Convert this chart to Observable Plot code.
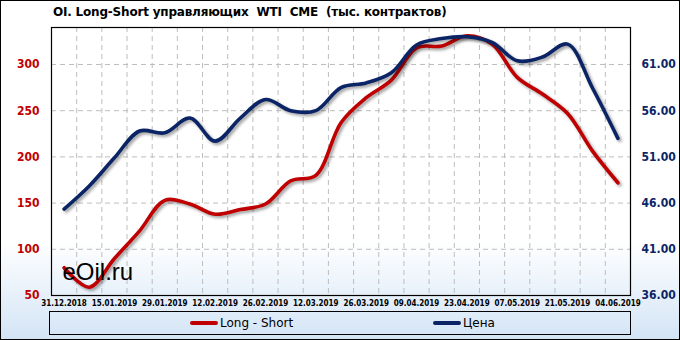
<!DOCTYPE html>
<html>
<head>
<meta charset="utf-8">
<script src="https://cdn.jsdelivr.net/npm/d3@7"></script>
<script src="https://cdn.jsdelivr.net/npm/@observablehq/plot@0.6"></script>
<style>
  html, body { margin: 0; padding: 0; background: #fff; }
  #chart {
    position: relative; width: 680px; height: 340px; overflow: hidden;
    background: linear-gradient(to bottom, #ffffff 0%, #ffffff 71%, #d3e4f6 100%);
    font-family: "DejaVu Sans", Verdana, sans-serif;
  }
  #border { position: absolute; left: 0; top: 0; width: 678px; height: 338px; border: 1px solid #000; pointer-events: none; }
  #title { height: 24px; box-sizing: border-box; padding: 5px 0 0 53px; font-weight: bold; font-size: 12px; line-height: 14px; color: #000; white-space: pre; letter-spacing: -0.2px; }
  #plot svg { display: block; background: transparent; overflow: visible; }
  #plot svg g[aria-label="line"] { filter: drop-shadow(2px 2px 1.5px rgba(0,0,0,0.38)); }
  #legend { position: relative; height: 29px; }
  #legbox { position: absolute; left: 49px; top: 0; width: 580px; height: 22px; border: 1px solid #000; }
  .item { position: absolute; top: 0; height: 22px; display: flex; align-items: center; font-size: 12px; color: #000; }
  .sw { width: 28px; height: 4px; border-radius: 2px; margin-right: 2px; }
</style>
</head>
<body>
<div id="chart">
  <div id="title">OI. Long-Short управляющих  WTI  CME  (тыс. контрактов)</div>
  <div id="plot"></div>
  <div id="legend">
    <div id="legbox">
      <div class="item" style="left:140px"><div class="sw" style="background:#c00000"></div>Long - Short</div>
      <div class="item" style="left:383px"><div class="sw" style="background:#0a2466"></div>Цена</div>
    </div>
  </div>
  <div id="border"></div>
</div>
<script>
const dates = ["31.12.2018","08.01.2019","15.01.2019","22.01.2019","29.01.2019","05.02.2019","12.02.2019","19.02.2019","26.02.2019","05.03.2019","12.03.2019","19.03.2019","26.03.2019","02.04.2019","09.04.2019","16.04.2019","23.04.2019","30.04.2019","07.05.2019","14.05.2019","21.05.2019","28.05.2019","04.06.2019"];
const longShort = [80, 59, 90, 120, 153, 149, 138, 143, 149, 174, 180, 237, 264, 283, 318, 320, 331, 322, 286, 268, 247, 206, 172];
const price = [45.35, 47.85, 50.9, 53.8, 53.6, 55.2, 52.7, 55.2, 57.2, 56.0, 56.0, 58.5, 59.0, 60.1, 63.1, 63.8, 64.0, 63.4, 61.4, 61.8, 63.2, 58.4, 53.0];
const leftTicks = [50, 100, 150, 200, 250, 300];
const rightTicks = [36, 41, 46, 51, 56, 61];

const idx = dates.map((d, i) => i);
const labelIdx = idx.filter(i => i % 2 === 0);
const between = idx.slice(0, -1).map(i => i + 0.5);
// price axis 36..65 mapped onto the left scale 50..340
const toLeft = p => 50 + (p - 36) * 10;
const toPrice = v => (v - 50) / 10 + 36;

const RED = "#c00000", NAVY = "#0a2466";

const chart = Plot.plot({
  width: 680,
  height: 287,
  marginTop: 3,
  marginBottom: 16,
  marginLeft: 51,
  marginRight: 50,
  style: {background: "transparent", overflow: "visible"},
  x: {domain: [-0.5, dates.length - 0.5], axis: null},
  y: {domain: [50, 340], axis: null},
  marks: [
    Plot.ruleX(between, {stroke: "#bdbdbd", strokeDasharray: "5,4", strokeWidth: 1}),
    Plot.ruleY(leftTicks.slice(1), {stroke: "#bdbdbd", strokeDasharray: "5,4", strokeWidth: 1}),
    Plot.frame({stroke: "#000", strokeWidth: 1.2}),
    Plot.axisX(labelIdx, {tickSize: 0, tickPadding: 5, tickFormat: i => dates[i], fontSize: 8, fontWeight: "bold", fontFamily: "DejaVu Sans Condensed, DejaVu Sans, sans-serif", fill: "#000"}),
    Plot.axisY(leftTicks, {anchor: "left", tickSize: 0, tickPadding: 12, fontSize: 12, fontWeight: "bold", fontFamily: "DejaVu Sans Condensed, DejaVu Sans, sans-serif", fill: RED}),
    Plot.axisY(rightTicks.map(toLeft), {anchor: "right", tickSize: 0, tickPadding: 11, tickFormat: v => toPrice(v).toFixed(2), fontSize: 12, fontWeight: "bold", fontFamily: "DejaVu Sans Condensed, DejaVu Sans, sans-serif", fill: NAVY}),
    Plot.line(idx, {x: i => i, y: i => longShort[i], curve: "catmull-rom", stroke: RED, strokeWidth: 3.6, strokeLinecap: "round"}),
    Plot.line(idx, {x: i => i, y: i => toLeft(price[i]), curve: "catmull-rom", stroke: NAVY, strokeWidth: 3.6, strokeLinecap: "round"}),
    Plot.text(["eOil.ru"], {frameAnchor: "bottom-left", dx: 11, dy: -16, textAnchor: "start", lineAnchor: "bottom", fontSize: 24, fontFamily: "Liberation Sans, Arial, sans-serif", fill: "#000"})
  ]
});
document.getElementById("plot").appendChild(chart);
</script>
</body>
</html>
